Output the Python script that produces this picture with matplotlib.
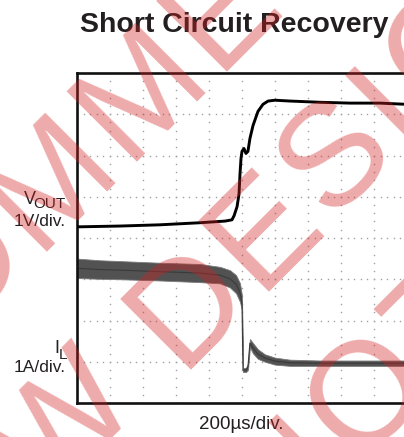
import numpy as np
import matplotlib.pyplot as plt

plt.rcParams['font.family'] = ['Liberation Sans', 'DejaVu Sans']

# scope capture, 200 us/div, 10 div across, 8 div high
# VOUT trace (1 V/div, volts measured from bottom of screen)
vout_t = [0, 261, 503, 745, 897, 939, 952, 970, 982, 988, 994, 1000, 1012,
          1024, 1036, 1048, 1067, 1097, 1127, 1158, 1200, 1291, 1473, 1655, 1836, 2000]
vout_v = [4.27, 4.29, 4.32, 4.37, 4.41, 4.44, 4.54, 4.76, 5.07, 5.56, 5.93, 6.10, 6.17,
          6.05, 6.10, 6.41, 6.73, 7.07, 7.24, 7.32, 7.34, 7.32, 7.29, 7.27, 7.27, 7.24]

# IL trace (1 A/div) - upper and lower edge of the noisy band
il_t = [0, 139, 261, 503, 745, 867, 927, 964, 988, 1000, 1006, 1024, 1036,
        1048, 1067, 1097, 1139, 1200, 1291, 1473, 1715, 2000]
il_hi = [3.50, 3.46, 3.44, 3.40, 3.37, 3.30, 3.22, 3.10, 2.90, 2.60, 0.85, 0.85, 0.95,
         1.55, 1.45, 1.30, 1.18, 1.10, 1.05, 1.03, 1.03, 1.03]
il_lo = [3.03, 3.01, 3.00, 2.97, 2.93, 2.90, 2.80, 2.66, 2.45, 2.25, 0.75, 0.75, 0.80,
         1.35, 1.20, 1.07, 1.00, 0.93, 0.90, 0.90, 0.90, 0.90]

W, H = 404, 437
fig = plt.figure(figsize=(W / 100, H / 100), dpi=100)


def fpos(x, y):
    return x / W, 1 - y / H


ax = fig.add_axes([77 / W, 1 - 403 / H, 330 / W, 330 / H])
ax.set_xlim(0, 2000)
ax.set_ylim(0, 8)

# dotted graticule
for gx in range(0, 2001, 200):
    ax.plot([gx] * 41, np.linspace(0, 8, 41), ls='none', marker='s', ms=1.0,
            mew=0, color='#a0a0a0', zorder=1)
for gy in range(0, 9):
    ax.plot(np.linspace(0, 2000, 51), [gy] * 51, ls='none', marker='s', ms=1.0,
            mew=0, color='#a0a0a0', zorder=1)

il_mid = (np.array(il_hi) + np.array(il_lo)) / 2
ax.fill_between(il_t, il_lo, il_hi, color='#525252', lw=0.6, edgecolor='#7a7a7a', zorder=2)
ax.plot(il_t, il_mid, color='#3a3a3a', lw=0.8, zorder=2)
ax.plot(vout_t, vout_v, color='black', lw=2.1, zorder=3)

ax.set_xticks([])
ax.set_yticks([])
for sp in ax.spines.values():
    sp.set_linewidth(1.9)
    sp.set_color('#111111')

ink = '#231f20'
fig.text(*fpos(234, 32), 'Short Circuit Recovery', fontsize=20.5, fontweight='bold',
         ha='center', va='baseline', color=ink)
fig.text(*fpos(36, 204), 'V', fontsize=13, ha='right', va='baseline', color=ink)
fig.text(*fpos(66, 208), 'OUT', fontsize=11, ha='right', va='baseline', color=ink)
fig.text(*fpos(66, 226), '1V/div.', fontsize=12.5, ha='right', va='baseline', color=ink)
fig.text(*fpos(59, 353), 'I', fontsize=13, ha='right', va='baseline', color=ink)
fig.text(*fpos(67, 359), 'L', fontsize=11, ha='right', va='baseline', color=ink)
fig.text(*fpos(66, 372), '1A/div.', fontsize=12.5, ha='right', va='baseline', color=ink)
fig.text(*fpos(241, 429), '200\u00b5s/div.', fontsize=13.5, ha='center', va='baseline',
         color=ink)

# watermark: diagonal lines, letters placed one by one along a 45 deg baseline
adv = {'N': 722, 'O': 778, 'T': 611, ' ': 278, 'R': 722, 'E': 667, 'C': 722,
       'M': 833, 'D': 722, 'F': 611, 'W': 944, 'S': 667, 'I': 278, 'G': 778}
em, track = 145, 6
r2 = np.sqrt(2)
for s, t0, txt in [(203, -966, 'NOT RECOMMENDED'),
                   (388, -908, 'FOR NEW DESIGNS'),
                   (580, -186, 'NOT RECOMMENDED')]:
    t = t0
    for ch in txt:
        x, y = (s + t) / r2, (s - t) / r2
        if ch != ' ':
            fig.text(*fpos(x, y), ch, fontsize=em * 0.72, rotation=45,
                     rotation_mode='anchor', ha='left', va='baseline',
                     color='#d42020', alpha=0.38, zorder=10)
        t += adv[ch] / 1000 * em + track

fig.savefig('out.png', dpi=100)
